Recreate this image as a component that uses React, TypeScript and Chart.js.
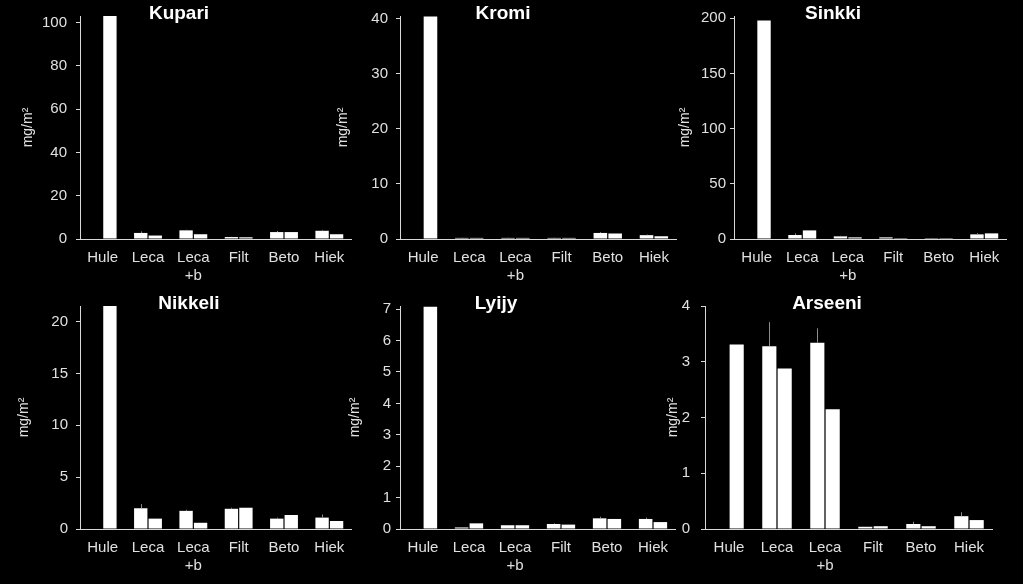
import React, { useEffect, useRef } from 'react';
import { Chart, registerables } from 'chart.js';

Chart.register(...registerables);

// ---------- data ----------
const categories: (string | string[])[] = ['Hule', 'Leca', ['Leca', '+b'], 'Filt', 'Beto', 'Hiek'];
const yAxisTitle = 'mg/m²';

const kupariA = [null, 2.8, 4.0, 0.9, 3.2, 3.8];
const kupariB = [103, 1.6, 2.2, 0.8, 3.2, 2.2];
const kupariErr = [0, 0.7, 0.3, 0.1, 0.5, 0.4];
const kupariTicks = [0, 20, 40, 60, 80, 100];

const kromiA = [null, 0.2, 0.2, 0.2, 1.1, 0.7];
const kromiB = [40.4, 0.2, 0.2, 0.2, 1.0, 0.5];
const kromiErr = [0, 0.05, 0.05, 0.05, 0.15, 0.1];
const kromiTicks = [0, 10, 20, 30, 40];

const sinkkiA = [null, 3.6, 2.4, 1.5, 0.8, 4.2];
const sinkkiB = [198, 7.8, 1.5, 0.8, 0.8, 5.1];
const sinkkiErr = [0, 1.5, 0.5, 0.3, 0.2, 1.0];
const sinkkiTicks = [0, 50, 100, 150, 200];

const nikkeliA = [null, 2.0, 1.75, 1.95, 1.0, 1.1];
const nikkeliB = [21.5, 1.0, 0.6, 2.05, 1.35, 0.77];
const nikkeliErr = [0, 0.4, 0.1, 0.1, 0.1, 0.3];
const nikkeliTicks = [0, 5, 10, 15, 20];

const lyijyA = [null, 0.05, 0.12, 0.16, 0.34, 0.32];
const lyijyB = [7.08, 0.18, 0.12, 0.14, 0.32, 0.22];
const lyijyErr = [0, 0.01, 0.01, 0.02, 0.05, 0.04];
const lyijyTicks = [0, 1, 2, 3, 4, 5, 6, 7];

const arseeniA = [null, 3.28, 3.34, 0.04, 0.09, 0.23];
const arseeniB = [3.31, 2.88, 2.15, 0.05, 0.05, 0.16];
const arseeniErr = [0, 0.43, 0.26, 0, 0.04, 0.07];
const arseeniTicks = [0, 1, 2, 3, 4];

// ---------- styling / layout ----------
const FONT = "'Liberation Sans', Arial, sans-serif";
const AXIS = '#d9d9d9';
const TICK = '#e0e0e0';
const ERR = '#8c8c8c';
const CANVAS_H = 289;

interface PanelSpec {
  name: string;
  a: (number | null)[];
  b: number[];
  err: number[];
  ticks: number[];
  max: number;
  left: number;
  top: number;
  width: number;
  axisW: number;
  yTitlePad: number;
  tickPad: number;
  titleX: number;
}

const panels: PanelSpec[] = [
  { name: 'Kupari', a: kupariA, b: kupariB, err: kupariErr, ticks: kupariTicks, max: 103, left: 0, top: 0, width: 352, axisW: 80, yTitlePad: 19.6, tickPad: 9, titleX: 179 },
  { name: 'Kromi', a: kromiA, b: kromiB, err: kromiErr, ticks: kromiTicks, max: 40.5, left: 330, top: 0, width: 347, axisW: 70, yTitlePad: 4.6, tickPad: 8, titleX: 173 },
  { name: 'Sinkki', a: sinkkiA, b: sinkkiB, err: sinkkiErr, ticks: sinkkiTicks, max: 202, left: 670, top: 0, width: 337, axisW: 64, yTitlePad: 6.6, tickPad: 4, titleX: 163 },
  { name: 'Nikkeli', a: nikkeliA, b: nikkeliB, err: nikkeliErr, ticks: nikkeliTicks, max: 21.5, left: 0, top: 290, width: 352, axisW: 80, yTitlePad: 15.6, tickPad: 8, titleX: 189 },
  { name: 'Lyijy', a: lyijyA, b: lyijyB, err: lyijyErr, ticks: lyijyTicks, max: 7.1, left: 330, top: 290, width: 346, axisW: 70, yTitlePad: 16.6, tickPad: 5, titleX: 166 },
  { name: 'Arseeni', a: arseeniA, b: arseeniB, err: arseeniErr, ticks: arseeniTicks, max: 4, left: 660, top: 290, width: 333, axisW: 45, yTitlePad: 4.6, tickPad: 11, titleX: 167 },
];

function Panel({ spec }: { spec: PanelSpec }) {
  const ref = useRef<HTMLCanvasElement>(null);

  useEffect(() => {
    if (!ref.current) return;

    const errPlugin = {
      id: 'errBars',
      afterDatasetsDraw(chart: any) {
        const meta = chart.getDatasetMeta(0);
        const ys = chart.scales.y;
        const ctx = chart.ctx;
        ctx.save();
        ctx.strokeStyle = ERR;
        ctx.lineWidth = 1;
        meta.data.forEach((bar: any, i: number) => {
          const v = spec.a[i];
          const e = spec.err[i];
          if (v == null || !e) return;
          const x = Math.round(bar.x) + 0.5;
          ctx.beginPath();
          ctx.moveTo(x, ys.getPixelForValue(v));
          ctx.lineTo(x, ys.getPixelForValue(v + e));
          ctx.stroke();
        });
        ctx.restore();
      },
    };

    const titlePlugin = {
      id: 'panelTitle',
      afterDraw(chart: any) {
        const ctx = chart.ctx;
        ctx.save();
        ctx.font = `bold 19px ${FONT}`;
        ctx.fillStyle = '#ffffff';
        ctx.textAlign = 'center';
        ctx.textBaseline = 'middle';
        ctx.fillText(spec.name, spec.titleX, 14);
        ctx.restore();
      },
    };

    const barStyle = {
      backgroundColor: '#ffffff',
      borderWidth: 0,
      categoryPercentage: 0.64,
      barPercentage: 0.92,
    };

    const chart = new Chart(ref.current, {
      type: 'bar',
      data: {
        labels: categories as any,
        datasets: [
          { data: spec.a as any, ...barStyle },
          { data: spec.b, ...barStyle },
        ],
      },
      options: {
        responsive: false,
        animation: false,
        layout: { padding: { top: 16, right: 0, left: 0, bottom: 0 } },
        plugins: {
          legend: { display: false },
          tooltip: { enabled: false },
          title: { display: false },
        },
        scales: {
          x: {
            grid: { display: false, drawTicks: false },
            border: { display: true, color: AXIS, width: 1 },
            ticks: {
              color: TICK,
              font: { family: FONT, size: 15 },
              padding: 10,
              maxRotation: 0,
              autoSkip: false,
            },
            afterFit: (s: any) => {
              s.height = 50;
              s.paddingLeft = 0;
              s.paddingRight = 0;
            },
          },
          y: {
            min: 0,
            max: spec.max,
            grid: { drawOnChartArea: false, color: AXIS, tickLength: 4 },
            border: { display: true, color: AXIS, width: 1 },
            ticks: {
              color: TICK,
              font: { family: FONT, size: 15 },
              padding: spec.tickPad,
            },
            afterBuildTicks: (axis: any) => {
              axis.ticks = spec.ticks.map((v) => ({ value: v }));
            },
            title: {
              display: true,
              text: yAxisTitle,
              color: TICK,
              font: { family: FONT, size: 14 },
              padding: { top: spec.yTitlePad, bottom: 0 },
            },
            afterFit: (s: any) => {
              s.width = spec.axisW;
              s.paddingTop = 0;
              s.paddingBottom = 0;
            },
          },
        },
      } as any,
      plugins: [errPlugin, titlePlugin],
    });

    return () => chart.destroy();
  }, [spec]);

  return (
    <canvas
      ref={ref}
      width={spec.width}
      height={CANVAS_H}
      style={{ position: 'absolute', left: spec.left, top: spec.top, width: spec.width, height: CANVAS_H }}
    />
  );
}

export default function App() {
  return (
    <div style={{ position: 'fixed', left: 0, top: 0, width: '100vw', height: '100vh', background: '#000', overflow: 'hidden' }}>
      {panels.map((p) => (
        <Panel key={p.name} spec={p} />
      ))}
    </div>
  );
}
